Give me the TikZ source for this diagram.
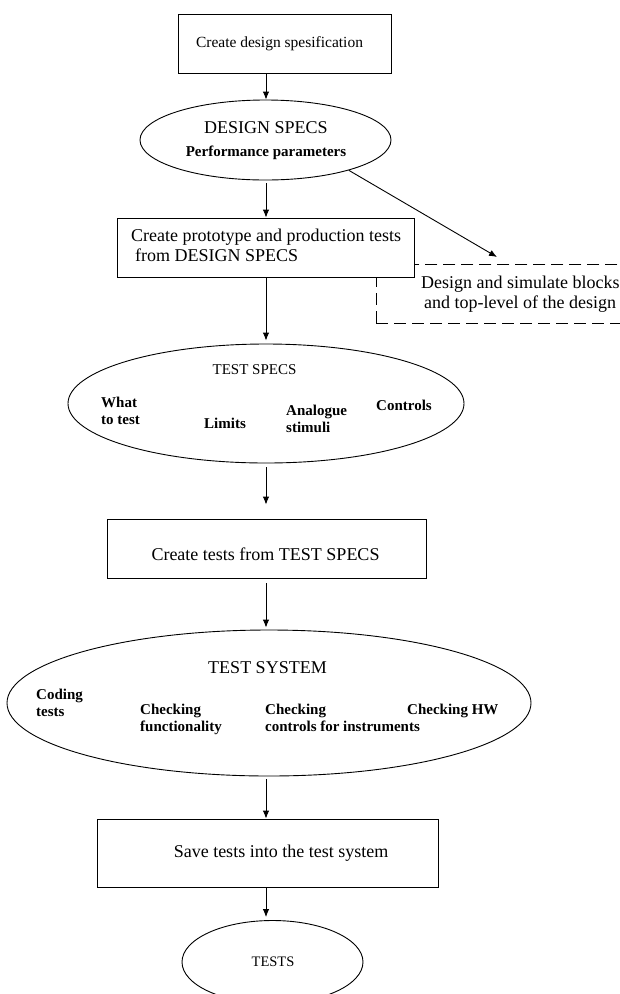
\documentclass[tikz,border=0pt]{standalone}
\usepackage{fontspec}
\setmainfont{Liberation Serif}
\usetikzlibrary{arrows.meta,shapes.geometric}
\begin{document}
\begin{tikzpicture}[x=1pt,y=-1pt,
  box/.style={draw, line width=0.9pt, fill=white, inner sep=0pt},
  oval/.style={draw, ellipse, line width=0.9pt, inner sep=0pt},
  dashbox/.style={draw, line width=0.9pt, dash pattern=on 12pt off 6pt, inner sep=0pt},
  arr/.style={-{Latex[length=8pt,width=6.5pt]}, line width=0.9pt},
  main/.style={inner sep=0pt, font=\fontsize{18}{20}\selectfont},
  title/.style={inner sep=0pt, font=\fontsize{15}{17}\selectfont},
  sub/.style={inner sep=0pt, font=\fontsize{15}{17}\selectfont\bfseries, align=left, anchor=north west},
]
\useasboundingbox (0,0) rectangle (620,994);
\coordinate (axis) at (266,0);

% dashed box (partly covered by box b2)
\node[dashbox, minimum width=280, minimum height=59, anchor=north west] (sim) at (376,264) {};
\node[main, align=left, anchor=north west] (simt) at (421,276)
  {Design and simulate blocks\\\hspace{3pt}and top-level of the design};

% box 1
\node[box, minimum width=213, minimum height=59] (b1) at (284.5,43.5) {};
\node[inner sep=0pt, font=\fontsize{15.5}{18}\selectfont] (t1) at (279.5,44) {Create design spesification};

% ellipse 1
\node[oval, minimum width=251, minimum height=80] (e1) at (265.5,140) {};
\node[main] (e1a) at (266,128) {DESIGN SPECS};
\node[inner sep=0pt, font=\fontsize{15}{17}\selectfont\bfseries] (e1b) at (266,153) {Performance parameters};

% box 2
\node[box, minimum width=297, minimum height=59] (b2) at (265.5,247.5) {};
\node[main, align=left, anchor=north west] (t2) at (131,229)
  {Create prototype and production tests\\\hspace{4pt}from DESIGN SPECS};

% ellipse 2
\node[oval, minimum width=396, minimum height=119] (e2) at (266,403.5) {};
\node[title] (e2a) at (254.5,370) {TEST SPECS};
\node[sub] (e2b) at (101,397) {What\\to test};
\node[sub] (e2c) at (204,418) {Limits};
\node[sub] (e2d) at (286,405) {Analogue\\stimuli};
\node[sub] (e2e) at (376,400) {Controls};

% box 3
\node[box, minimum width=319, minimum height=59] (b3) at (266.5,548.5) {};
\node[main] (t3) at (265.5,554) {Create tests from TEST SPECS};

% ellipse 3
\node[oval, minimum width=524, minimum height=146] (e3) at (269,703) {};
\node[main] (e3a) at (267.5,668) {TEST SYSTEM};
\node[sub] (e3b) at (36,689) {Coding\\tests};
\node[sub] (e3c) at (140,704) {Checking\\functionality};
\node[sub] (e3d) at (265,704) {Checking\\controls for instruments};
\node[sub] (e3e) at (407,704) {Checking HW};

% box 4
\node[box, minimum width=341, minimum height=68] (b4) at (267.5,853) {};
\node[main] (t4) at (281,853) {Save tests into the test system};

% ellipse 4
\node[oval, minimum width=181, minimum height=83] (e4) at (272.5,962) {};
\node[inner sep=0pt, font=\fontsize{14.5}{17}\selectfont] (t5) at (273,962) {TESTS};

% connectors
\coordinate (dtip) at (497,257);
\draw[arr] (axis |- b1.south) -- (axis |- e1.north);
\draw[arr, shorten <=3pt] (axis |- e1.south) -- (axis |- b2.north);
\draw[arr, shorten >=3pt] (axis |- b2.south) -- (axis |- e2.north);
\draw[arr, shorten <=4pt, shorten >=14pt] (axis |- e2.south) -- (axis |- b3.north);
\draw[arr, shorten <=5pt, shorten >=2pt] (axis |- b3.south) -- (axis |- e3.north);
\draw[arr, shorten <=3pt] (axis |- e3.south) -- (axis |- b4.north);
\draw[arr, shorten >=3pt] (axis |- b4.south) -- (axis |- e4.north);
\draw[arr] (e1.-20) -- (dtip);
\end{tikzpicture}
\end{document}
